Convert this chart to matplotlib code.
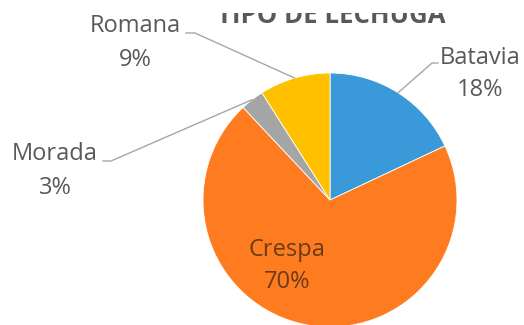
import numpy as np
import matplotlib.pyplot as plt
from matplotlib.patches import Rectangle

plt.rcParams['font.family'] = ['Open Sans', 'DejaVu Sans']

# tipos de lechuga y porcentaje
tipos = ["Batavia", "Crespa", "Morada", "Romana"]
pct = [18, 70, 3, 9]
colores = ["#3a9ad9", "#fe7c1f", "#a5a5a5", "#ffc000"]

W, H = 524, 325
cx, cy, r = 330, H - 200, 127

fig = plt.figure(figsize=(W / 100, H / 100), dpi=100)
ax = fig.add_axes([0, 0, 1, 1])
ax.pie(pct, colors=colores, startangle=90, counterclock=False,
       center=(cx, cy), radius=r,
       wedgeprops=dict(edgecolor="white", linewidth=0.6))
ax.set_xlim(0, W)
ax.set_ylim(0, H)
ax.set_aspect("equal")
ax.axis("off")

# titulo, tapado por arriba
ax.text(331, H - 23, "TIPO DE LECHUGA", ha="center", va="baseline",
        fontsize=18.5, fontweight="bold", color="#595959")
ax.add_patch(Rectangle((0, H - 13), W, 13, facecolor="white",
                       edgecolor="none", zorder=10))

# angulo medio de cada porcion (grados)
fin = 90 - 360 * np.cumsum(pct) / 100
ini = fin + 360 * np.array(pct) / 100
medio = (ini + fin) / 2

# posicion de etiquetas y codo de la linea guia (pixeles, y hacia abajo)
pos_txt = {"Batavia": (480, 74), "Crespa": (287, 266),
           "Morada": (55, 171), "Romana": (135, 43)}
codo = {"Batavia": [(438, 63), (432, 63)],
        "Morada": [(103, 161), (111, 161)],
        "Romana": [(186, 33), (195, 33)]}

for i, nombre in enumerate(tipos):
    x, y = pos_txt[nombre]
    col = "#6b3c15" if nombre == "Crespa" else "#595959"
    ax.text(x, H - y, f"{nombre}\n{pct[i]}%", ha="center", va="center",
            fontsize=17, color=col, linespacing=1.5)
    if nombre in codo:
        a = np.radians(medio[i])
        px = [p[0] for p in codo[nombre]] + [cx + r * np.cos(a)]
        py = [H - p[1] for p in codo[nombre]] + [cy + r * np.sin(a)]
        ax.plot(px, py, color="#a6a6a6", lw=1)

fig.savefig("out.png", dpi=100)
